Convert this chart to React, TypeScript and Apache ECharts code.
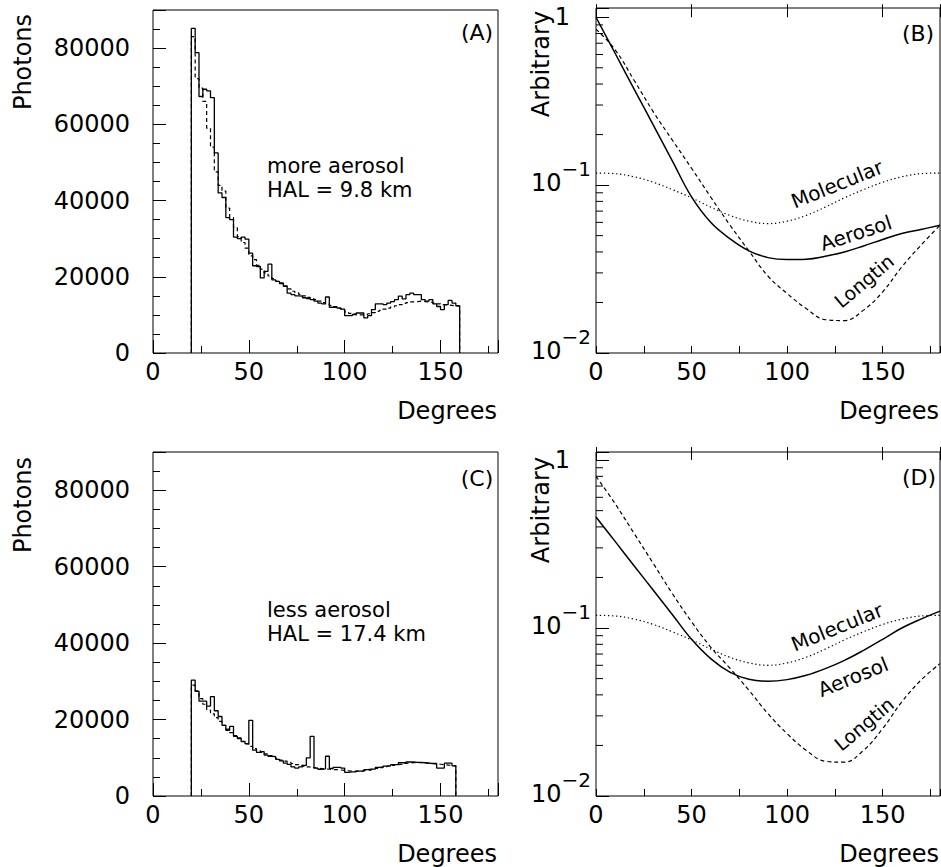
import { useEffect, useRef } from "react";
import * as echarts from "echarts";

const FONT = "DejaVu Sans";

// ---- histogram binning (degrees) ----
const HIST_START = 20;
const BIN_W = 2;

// Panel (A): more aerosol, photons per 2-degree bin
const photonsA_data = [
  85200, 78800, 67300, 69200, 68800, 67000, 52500, 42000, 40800, 35500,
  35000, 30400, 30000, 30400, 29900, 26200, 22900, 22700, 19700, 21400,
  23300, 19200, 18800, 18400, 17500, 15700, 15300, 15000, 14900, 14500,
  14300, 14000, 13600, 13100, 12900, 14700, 12000, 12000, 11800, 11500,
  9800, 9800, 10100, 10500, 10500, 9200, 9800, 11400, 12900, 12900,
  12700, 13100, 13500, 14000, 14900, 14200, 15300, 15700, 15300, 15300,
  14000, 13600, 14000, 12900, 12200, 11400, 12700, 13800, 13100, 12400,
];
const photonsA_sim = [
  83000, 72000, 69500, 66000, 59000, 54000, 47500, 44000, 42500, 38000,
  35500, 33000, 30500, 29000, 27500, 25500, 24500, 23000, 22000, 21000,
  20200, 19500, 18800, 18200, 17600, 16800, 16200, 15800, 15400, 15000,
  14600, 14300, 14000, 13600, 13200, 12800, 12500, 12200, 11800, 11300,
  10800, 10400, 10200, 10000, 10000, 10100, 10300, 10600, 10900, 11200,
  11500, 11800, 12100, 12400, 12700, 13000, 13200, 13400, 13500, 13600,
  13500, 13400, 13300, 13100, 12900, 12700, 12600, 12500, 12400, 12300,
];

// Panel (C): less aerosol
const photonsC_data = [
  30300, 27400, 24800, 24800, 23500, 26000, 22300, 20800, 18500, 17200,
  18200, 15600, 15200, 14200, 13700, 19800, 12000, 11400, 11600, 10700,
  10400, 10300, 9600, 9200, 8600, 8300, 7600, 7300, 7600, 8000,
  10000, 15600, 7300, 7000, 7100, 10400, 7200, 7500, 7500, 7300,
  6200, 6300, 6300, 6500, 6500, 6900, 7000, 7100, 7500, 7600,
  7800, 7900, 8200, 8200, 8700, 8700, 8900, 8900, 8800, 8800,
  8700, 8600, 8500, 8500, 7300, 7300, 8600, 8600, 7900,
];
const photonsC_sim = [
  29000, 27500, 25500, 24000, 22500, 21500, 20500, 19500, 18500, 17500,
  16600, 15800, 15000, 14300, 13600, 13000, 12400, 11900, 11400, 11000,
  10600, 10200, 9800, 9400, 9100, 8800, 8500, 8200, 8000, 7800,
  7600, 7400, 7300, 7200, 7100, 7000, 6900, 6900, 6800, 6700,
  6600, 6500, 6500, 6500, 6600, 6700, 6800, 7000, 7200, 7400,
  7600, 7800, 8000, 8200, 8300, 8500, 8600, 8700, 8700, 8700,
  8600, 8600, 8500, 8400, 8300, 8200, 8100, 8000, 7900,
];

// ---- phase functions (arbitrary units) ----
const angles = [0, 10, 20, 30, 40, 50, 60, 70, 80, 90, 100, 110, 120, 130, 140, 150, 160, 170, 180];
const molecularB = [0.118, 0.117, 0.112, 0.104, 0.094, 0.084, 0.074, 0.066, 0.061, 0.059, 0.061, 0.066, 0.074, 0.084, 0.094, 0.104, 0.112, 0.117, 0.118];
const aerosolB = [1.0, 0.61, 0.372, 0.228, 0.139, 0.085, 0.06, 0.048, 0.0406, 0.037, 0.036, 0.0362, 0.0377, 0.04, 0.0434, 0.0474, 0.0515, 0.0544, 0.0577];
const longtinB = [0.85, 0.64, 0.42, 0.273, 0.185, 0.126, 0.085, 0.058, 0.0406, 0.0287, 0.0226, 0.0184, 0.0158, 0.0156, 0.018, 0.0231, 0.0326, 0.0438, 0.0577];
const molecularD = [0.119, 0.118, 0.113, 0.105, 0.095, 0.085, 0.075, 0.067, 0.062, 0.06, 0.062, 0.067, 0.075, 0.085, 0.095, 0.105, 0.113, 0.118, 0.119];
const aerosolD = [0.458, 0.328, 0.234, 0.168, 0.12, 0.0857, 0.0658, 0.0547, 0.0495, 0.0482, 0.0493, 0.0523, 0.0573, 0.0642, 0.0737, 0.0857, 0.1, 0.113, 0.126];
const longtinD = [0.8, 0.55, 0.365, 0.242, 0.16, 0.109, 0.077, 0.0578, 0.0426, 0.0309, 0.0235, 0.0187, 0.0161, 0.0159, 0.0187, 0.0252, 0.0363, 0.0489, 0.0614];

// ---- ticks ----
const photonTicks = [0, 20000, 40000, 60000, 80000];
const degreeTicks = [0, 50, 100, 150];
const logTicks = [-2, -1, 0];
const logTickLabels = ["10^−2", "10^−1", "1"];
const logMinorTicks = [0.02, 0.03, 0.04, 0.05, 0.06, 0.07, 0.08, 0.09, 0.2, 0.3, 0.4, 0.5, 0.6, 0.7, 0.8, 0.9];

function histPoints(vals: number[]) {
  const pts: number[][] = [[HIST_START, 0]];
  vals.forEach((v, i) => {
    const lo = HIST_START + i * BIN_W;
    pts.push([lo, v], [lo + BIN_W, v]);
  });
  pts.push([HIST_START + vals.length * BIN_W, 0]);
  return pts;
}
function curvePoints(vals: number[]) {
  return angles.map((a, i) => [a, Math.log10(vals[i])]);
}

const BLACK = "#000";
const AXIS_FS = 24;
const axisText = { fontFamily: FONT, fontSize: AXIS_FS, color: BLACK };

function xMain(gi: number) {
  return {
    type: "value", gridIndex: gi, position: "bottom", offset: 0, min: 0, max: 180, interval: 50,
    axisLine: { show: false }, splitLine: { show: false },
    axisTick: { show: true, inside: true, length: 13, lineStyle: { color: BLACK, width: 1 } },
    axisLabel: { ...axisText, margin: 7, formatter: (v: number) => (degreeTicks.includes(v) ? String(v) : "") },
  };
}
function xMinor(gi: number) {
  return {
    type: "value", gridIndex: gi, position: "bottom", offset: 0, min: 0, max: 180, interval: 25,
    axisLine: { show: false }, splitLine: { show: false },
    axisTick: { show: true, inside: true, length: 7, lineStyle: { color: BLACK, width: 1 } },
    axisLabel: { show: false },
  };
}
function yLin(gi: number) {
  return {
    type: "value", gridIndex: gi, position: "left", offset: 0, min: 0, max: 90000, interval: 20000,
    axisLine: { show: false }, splitLine: { show: false },
    axisTick: { show: true, inside: true, length: 13, lineStyle: { color: BLACK, width: 1 } },
    axisLabel: { ...axisText, margin: 23, formatter: (v: number) => (photonTicks.includes(v) ? String(v) : "") },
  };
}
function yLinMinor(gi: number) {
  return {
    type: "value", gridIndex: gi, position: "left", offset: 0, min: 0, max: 90000, interval: 5000,
    axisLine: { show: false }, splitLine: { show: false },
    axisTick: { show: true, inside: true, length: 7, lineStyle: { color: BLACK, width: 1 } },
    axisLabel: { show: false },
  };
}
function yLog(gi: number, max: number) {
  return {
    type: "value", gridIndex: gi, position: "left", offset: 0, min: -2, max, interval: 1,
    axisLine: { show: false }, splitLine: { show: false },
    axisTick: { show: true, inside: true, length: 13, lineStyle: { color: BLACK, width: 1 } },
    axisLabel: {
      margin: 5,
      formatter: (v: number) => {
        const i = logTicks.findIndex((t) => Math.abs(t - v) < 1e-9);
        if (i < 0) return "";
        const lab = logTickLabels[i];
        if (!lab.includes("^")) return `{one|${lab}}`;
        const [b, s] = lab.split("^");
        return `{b|${b}}{s|${s}}`;
      },
      rich: {
        one: { fontFamily: FONT, fontSize: AXIS_FS, color: BLACK, padding: [0, 21, 0, 0] },
        b: { fontFamily: FONT, fontSize: AXIS_FS, color: BLACK, padding: [0, 0, 4, 0] },
        s: { fontFamily: FONT, fontSize: 20, color: BLACK, padding: [0, 0, 32, 0] },
      },
    },
  };
}

function histSeries(xi: number, yi: number, vals: number[], dashed: boolean) {
  return {
    type: "line", xAxisIndex: xi, yAxisIndex: yi, data: histPoints(vals), symbol: "none",
    silent: true, z: dashed ? 2 : 3,
    lineStyle: { color: BLACK, width: dashed ? 1.2 : 1.3, type: dashed ? [4, 3] : "solid" },
  };
}
function curveSeries(xi: number, yi: number, vals: number[], kind: "solid" | "dashed" | "dotted") {
  return {
    type: "line", xAxisIndex: xi, yAxisIndex: yi, data: curvePoints(vals), symbol: "none",
    smooth: 0.4, silent: true,
    lineStyle: {
      color: BLACK,
      width: kind === "solid" ? 1.5 : 1.2,
      type: kind === "solid" ? "solid" : kind === "dashed" ? [4, 3] : [1.3, 2.7],
    },
  };
}
function minorLogTicks(xi: number, yi: number) {
  return {
    type: "custom", xAxisIndex: xi, yAxisIndex: yi, silent: true, clip: false,
    data: logMinorTicks.map((v) => [0, Math.log10(v)]),
    encode: { x: 0, y: 1 },
    renderItem: (_p: any, api: any) => {
      const p = api.coord([0, api.value(1)]);
      return {
        type: "line",
        shape: { x1: p[0], y1: p[1], x2: p[0] + 7, y2: p[1] },
        style: { stroke: BLACK, lineWidth: 1 },
      };
    },
  };
}

function txt(text: string, x: number, y: number, size: number, opts: any = {}) {
  return {
    type: "text", x, y, rotation: opts.rotation || 0, silent: true, z: 10,
    style: {
      text, fill: BLACK, fontFamily: FONT, fontSize: size,
      align: opts.align || "center", verticalAlign: opts.verticalAlign || "middle",
    },
  };
}

function buildOption() {
  const gridBase = { show: true, borderColor: BLACK, borderWidth: 1, backgroundColor: "transparent", containLabel: false, outerBoundsMode: "none" };
  const deg = Math.PI / 180;
  return {
    animation: false,
    backgroundColor: "#fff",
    grid: [
      { ...gridBase, left: 153, top: 10, width: 345, height: 343 },
      { ...gridBase, left: 596, top: 8, width: 344, height: 345 },
      { ...gridBase, left: 153, top: 452, width: 345, height: 344 },
      { ...gridBase, left: 596, top: 452, width: 344, height: 344 },
    ],
    xAxis: [xMain(0), xMinor(0), xMain(1), xMinor(1), xMain(2), xMinor(2), xMain(3), xMinor(3)],
    yAxis: [yLin(0), yLinMinor(0), yLog(1, 0.055), yLin(2), yLinMinor(2), yLog(3, 0.048)],
    series: [
      histSeries(0, 0, photonsA_sim, true),
      histSeries(0, 0, photonsA_data, false),
      curveSeries(2, 2, molecularB, "dotted"),
      curveSeries(2, 2, longtinB, "dashed"),
      curveSeries(2, 2, aerosolB, "solid"),
      minorLogTicks(2, 2),
      histSeries(4, 3, photonsC_sim, true),
      histSeries(4, 3, photonsC_data, false),
      curveSeries(6, 5, molecularD, "dotted"),
      curveSeries(6, 5, longtinD, "dashed"),
      curveSeries(6, 5, aerosolD, "solid"),
      minorLogTicks(6, 5),
    ],
    graphic: [
      txt("Photons", 23, 62, 24, { rotation: Math.PI / 2 }),
      txt("Photons", 23, 505, 24, { rotation: Math.PI / 2 }),
      txt("Arbitrary", 541, 64, 24, { rotation: Math.PI / 2 }),
      txt("Arbitrary", 541, 510, 24, { rotation: Math.PI / 2 }),
      txt("Degrees", 497, 411, 24, { align: "right" }),
      txt("Degrees", 939, 411, 24, { align: "right" }),
      txt("Degrees", 497, 854, 24, { align: "right" }),
      txt("Degrees", 939, 854, 24, { align: "right" }),
      txt("(A)", 477, 32, 22),
      txt("(B)", 918, 33, 22),
      txt("(C)", 477, 478, 22),
      txt("(D)", 919, 477, 22),
      txt("more aerosol", 267, 166, 21, { align: "left" }),
      txt("HAL = 9.8 km", 267, 190, 21, { align: "left" }),
      txt("less aerosol", 267, 610, 21, { align: "left" }),
      txt("HAL = 17.4 km", 267, 634, 21, { align: "left" }),
      txt("Molecular", 837, 184, 20, { rotation: 22 * deg }),
      txt("Aerosol", 856, 233, 20, { rotation: 18 * deg }),
      txt("Longtin", 864, 281, 19, { rotation: 40 * deg }),
      txt("Molecular", 837, 627, 20, { rotation: 22 * deg }),
      txt("Aerosol", 853, 677, 20, { rotation: 22 * deg }),
      txt("Longtin", 864, 724, 19, { rotation: 40 * deg }),
    ],
  };
}

export default function App() {
  const ref = useRef<HTMLDivElement>(null);
  useEffect(() => {
    document.body.style.margin = "0";
    const chart = echarts.init(ref.current!, undefined, { renderer: "svg", width: 941, height: 867 });
    chart.setOption(buildOption() as any);
    return () => chart.dispose();
  }, []);
  return (
    <div
      ref={ref}
      style={{ position: "fixed", left: 0, top: 0, width: 941, height: 867, background: "#fff" }}
    />
  );
}
